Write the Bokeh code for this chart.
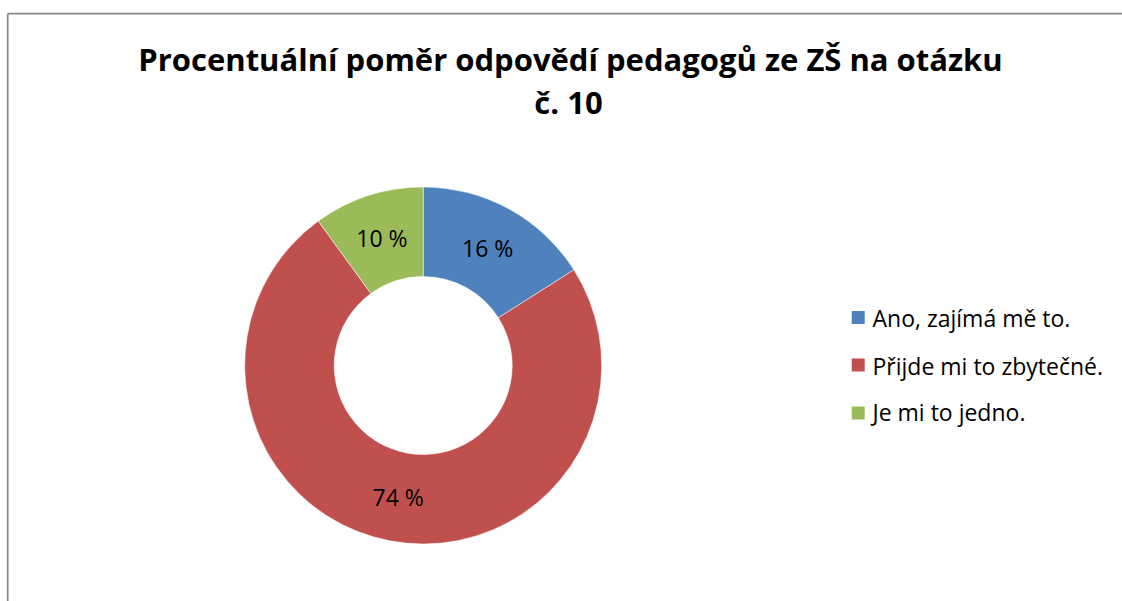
import math
from bokeh.plotting import figure
from bokeh.models import Range1d, ColumnDataSource
from bokeh.core.properties import value
from bokeh.embed import file_html
from bokeh.resources import INLINE

# ---- data ----
categories = ["Ano, zajímá mě to.", "Přijde mi to zbytečné.", "Je mi to jedno."]
percents = [16, 74, 10]
colors = ["#4F81BD", "#C0504D", "#9BBB59"]
title_lines = ["Procentuální poměr odpovědí pedagogů ze ZŠ na otázku", "č. 10"]

W, H = 1122, 601
p = figure(width=W, height=H, output_backend="svg", toolbar_location=None,
           x_range=Range1d(0, W), y_range=Range1d(0, H), min_border=0,
           outline_line_color=None)
p.axis.visible = False
p.grid.visible = False
p.background_fill_color = "white"
p.border_fill_color = "white"

def sx(x):  # screen x -> data x
    return x
def sy(y):  # screen y -> data y
    return H - y

# frame border (left and top visible)
p.segment(x0=[sx(7.2), sx(7.2)], y0=[sy(13.2), sy(13.2)], x1=[sx(7.2), W], y1=[0, sy(13.2)],
          line_color="#878787", line_width=1.7)

# donut
cx, cy = sx(422.7), sy(365)
r_in, r_out = 89, 178.5
total = sum(percents)
starts, ends, lx, ly, labels = [], [], [], [], []
acc = 0.0
for v in percents:
    a0 = math.pi / 2 - 2 * math.pi * acc / total
    a1 = math.pi / 2 - 2 * math.pi * (acc + v) / total
    starts.append(a0)
    ends.append(a1)
    mid = (a0 + a1) / 2
    rm = (r_in + r_out) / 2
    lx.append(cx + rm * math.cos(mid))
    ly.append(cy + rm * math.sin(mid))
    labels.append(f"{v} %")
    acc += v

src = ColumnDataSource(dict(start=starts, end=ends, color=colors, lx=lx, ly=ly, label=labels))
p.annular_wedge(x=cx, y=cy, inner_radius=r_in, outer_radius=r_out,
                start_angle="start", end_angle="end", direction="clock",
                fill_color="color", line_color="white", line_width=0.5, source=src)
p.text(x="lx", y="ly", text="label", source=src, text_align="center",
       text_baseline="middle", text_font=value("Open Sans"), text_font_size="23px",
       text_color="black")

# title
p.text(x=[sx(570), sx(568)], y=[sy(58), sy(101.7)], text=title_lines,
       text_align="center", text_baseline="middle", text_font=value("Open Sans"),
       text_font_size="31px", text_font_style="bold", text_color="black")

# legend
p.rect(x=[sx(857.7)] * 3, y=[sy(317), sy(364.5), sy(412.5)], width=13, height=13,
       fill_color=colors, line_color=None)
p.text(x=[sx(872)] * 3, y=[sy(317.4), sy(365), sy(411.7)], text=categories,
       text_align="left", text_baseline="middle", text_font=value("Open Sans"),
       text_font_size="23px", text_color="black")

open("out.html", "w").write(file_html(p, INLINE))
